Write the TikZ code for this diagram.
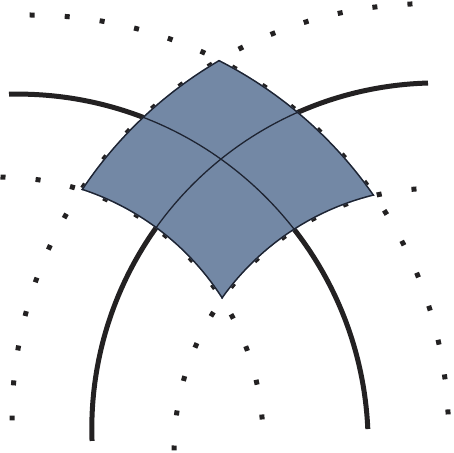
\documentclass[tikz,border=0pt]{standalone}
\definecolor{ink}{RGB}{35,33,34}
\definecolor{edgecol}{RGB}{30,36,50}
\definecolor{patchcol}{RGB}{115,136,165}
\begin{document}
\begin{tikzpicture}[x=1pt,y=-1pt,
  dotrow/.style={line width=5pt, color=ink, dash pattern=on 5pt off #1},
  thickline/.style={line width=5pt, color=ink},
  edgeline/.style={line width=2.8pt, color=edgecol},
  innerline/.style={line width=1.3pt, color=edgecol}]
\useasboundingbox (0,0) rectangle (453,453);
% dotted coordinate lines
\draw[dotrow=30.22pt] (30.26,433.28) ++(-90.10:418.3) arc[start angle=-90.10,end angle=-2.58,radius=418.3];
\draw[dotrow=30.21pt] (428.2,419.81) ++(-92.17:416.2) arc[start angle=-92.17,end angle=-180.09,radius=416.2];
\draw[dotrow=30.19pt] (0,440) ++(-89.89:263) arc[start angle=-89.89,end angle=-4.48,radius=263];
\draw[dotrow=30.20pt] (436.1,450.2) ++(-94.30:262) arc[start angle=-94.30,end angle=-180.06,radius=262];
% thick coordinate lines
\draw[thickline] (17.39,444.87) ++(-91.37:350.8) arc[start angle=-91.37,end angle=-2.59,radius=350.8];
\draw[thickline] (437.4,428.49) ++(-91.56:345.6) arc[start angle=-91.56,end angle=-182.07,radius=345.6];
% patch
\begin{scope}
  \clip (30.26,433.28) circle[radius=418.3];
  \clip (428.2,419.81) circle[radius=416.2];
  \begin{scope}[even odd rule]
    \clip (-200,-200) rectangle (700,700) (0,440) circle[radius=263];
    \clip (-200,-200) rectangle (700,700) (436.1,450.2) circle[radius=262];
    \fill[patchcol] (60,40) rectangle (400,320);
    \draw[edgeline] (30.26,433.28) circle[radius=418.3];
    \draw[edgeline] (428.2,419.81) circle[radius=416.2];
    \draw[edgeline] (0,440) circle[radius=263];
    \draw[edgeline] (436.1,450.2) circle[radius=262];
    \draw[innerline] (17.39,444.87) circle[radius=350.8];
    \draw[innerline] (437.4,428.49) circle[radius=345.6];
  \end{scope}
\end{scope}
\end{tikzpicture}
\end{document}
